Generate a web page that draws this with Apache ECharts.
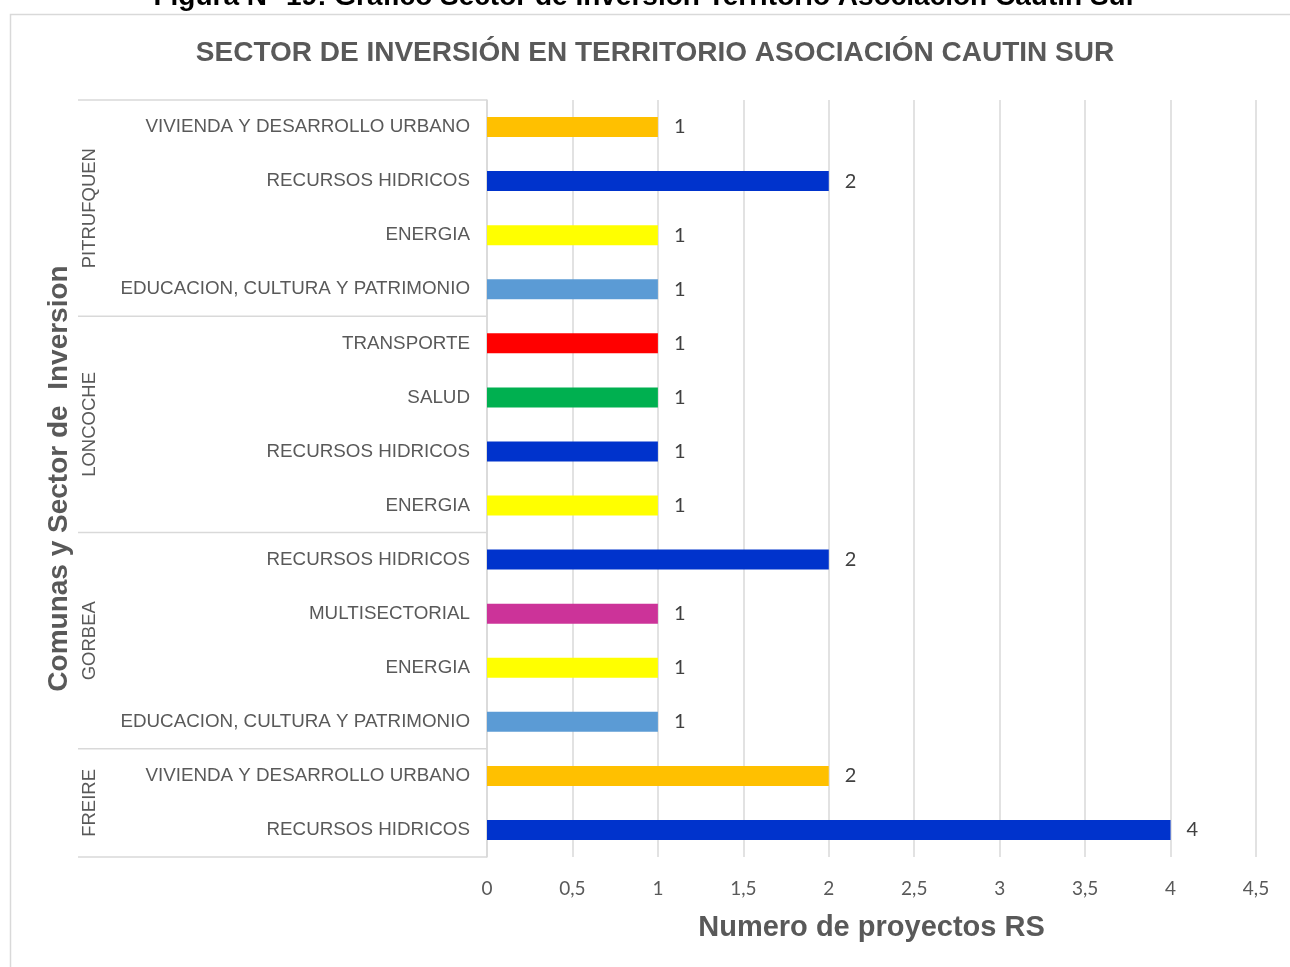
<!DOCTYPE html>
<html>
<head>
<meta charset="utf-8">
<script src="https://cdn.jsdelivr.net/npm/echarts@6/dist/echarts.min.js"></script>
<style>
  html, body { margin: 0; padding: 0; background: #fff; }
  #grafico { width: 1290px; height: 967px; }
</style>
</head>
<body>
<div id="grafico"></div>
<script>
// datos (de arriba hacia abajo)
const comunas = ['PITRUFQUEN', 'LONCOCHE', 'GORBEA', 'FREIRE'];
const tamanoComuna = [4, 4, 4, 2];
const sectores = [
  'VIVIENDA Y DESARROLLO URBANO', 'RECURSOS HIDRICOS', 'ENERGIA', 'EDUCACION, CULTURA Y PATRIMONIO',
  'TRANSPORTE', 'SALUD', 'RECURSOS HIDRICOS', 'ENERGIA',
  'RECURSOS HIDRICOS', 'MULTISECTORIAL', 'ENERGIA', 'EDUCACION, CULTURA Y PATRIMONIO',
  'VIVIENDA Y DESARROLLO URBANO', 'RECURSOS HIDRICOS'
];
const proyectos = [1, 2, 1, 1, 1, 1, 1, 1, 2, 1, 1, 1, 2, 4];
const ticksX = [0, 0.5, 1, 1.5, 2, 2.5, 3, 3.5, 4, 4.5];

// colores por sector
const coresSetor = {
  'VIVIENDA Y DESARROLLO URBANO': '#FFC000',
  'RECURSOS HIDRICOS': '#0033CC',
  'ENERGIA': '#FFFF00',
  'EDUCACION, CULTURA Y PATRIMONIO': '#5B9BD5',
  'TRANSPORTE': '#FF0000',
  'SALUD': '#00B050',
  'MULTISECTORIAL': '#CC3399'
};

const cinza = '#595959';
const linha = '#d9d9d9';

const grafico = echarts.init(document.getElementById('grafico'));

const option = {
  animation: false,
  backgroundColor: '#ffffff',
  title: {
    text: 'SECTOR DE INVERSIÓN EN TERRITORIO ASOCIACIÓN CAUTIN SUR',
    left: 650,
    top: 34,
    textAlign: 'center',
    textStyle: {
      fontFamily: 'Liberation Sans',
      fontWeight: 'bold',
      fontSize: 28,
      color: cinza
    }
  },
  grid: { left: 487, right: 34, top: 100, bottom: 110, containLabel: false },
  xAxis: {
    type: 'value',
    min: ticksX[0],
    max: ticksX[ticksX.length - 1],
    interval: 0.5,
    axisLine: { show: false },
    axisTick: { show: false },
    splitLine: { show: true, lineStyle: { color: linha, width: 1.5 } },
    axisLabel: {
      margin: 22,
      fontFamily: 'Lato',
      fontSize: 19,
      color: cinza,
      formatter: v => String(v).replace('.', ',')
    },
    name: 'Numero de proyectos RS',
    nameLocation: 'middle',
    nameGap: 56,
    nameTextStyle: {
      fontFamily: 'Liberation Sans',
      fontWeight: 'bold',
      fontSize: 29,
      color: cinza
    }
  },
  yAxis: {
    type: 'category',
    inverse: true,
    data: sectores,
    axisLine: { show: true, lineStyle: { color: linha, width: 1.5 } },
    axisTick: { show: false },
    splitLine: { show: false },
    axisLabel: {
      margin: 17,
      fontFamily: 'Liberation Sans',
      fontSize: 18.8,
      color: cinza
    },
    name: 'Comunas y Sector de  Inversion',
    nameLocation: 'middle',
    nameRotate: 90,
    nameGap: 414,
    nameTextStyle: {
      fontFamily: 'Liberation Sans',
      fontWeight: 'bold',
      fontSize: 28,
      color: cinza
    }
  },
  series: [{
    type: 'bar',
    barWidth: 20,
    data: proyectos.map((v, i) => ({
      value: v,
      itemStyle: { color: coresSetor[sectores[i]] }
    })),
    label: {
      show: true,
      position: 'right',
      distance: 16,
      fontFamily: 'Lato',
      fontSize: 20,
      color: '#404040'
    }
  }]
};

grafico.setOption(option);

// separadores y nombres de comunas calculados con la escala del eje
const y0 = grafico.convertToPixel({ yAxisIndex: 0 }, 0);
const y1 = grafico.convertToPixel({ yAxisIndex: 0 }, 1);
const banda = y1 - y0;
const xEixo = grafico.convertToPixel({ xAxisIndex: 0 }, 0);

const elementos = [
  {
    type: 'rect',
    shape: { x: 10.5, y: 14.5, width: 1300, height: 980 },
    style: { fill: 'none', stroke: linha, lineWidth: 1.5 },
    silent: true
  },
  {
    type: 'text',
    x: 645, y: 11,
    style: {
      text: 'Figura N° 19: Gráfico Sector de Inversión Territorio Asociación Cautin Sur',
      fontFamily: 'Liberation Sans',
      fontWeight: 'bold',
      fontSize: 28,
      fill: '#000',
      align: 'center',
      verticalAlign: 'bottom'
    }
  }
];

let inicio = 0;
comunas.forEach((nome, g) => {
  const topo = y0 + (inicio - 0.5) * banda;
  const fim = y0 + (inicio + tamanoComuna[g] - 0.5) * banda;
  elementos.push({
    type: 'line',
    shape: { x1: 78, y1: topo, x2: xEixo, y2: topo },
    style: { stroke: linha, lineWidth: 1.5 }
  });
  elementos.push({
    type: 'text',
    x: 90, y: (topo + fim) / 2,
    rotation: Math.PI / 2,
    style: {
      text: nome,
      fontFamily: 'Liberation Sans',
      fontSize: 18.5,
      fill: cinza,
      align: 'center',
      verticalAlign: 'middle'
    }
  });
  inicio += tamanoComuna[g];
});
const base = y0 + (sectores.length - 0.5) * banda;
elementos.push({
  type: 'line',
  shape: { x1: 78, y1: base, x2: xEixo, y2: base },
  style: { stroke: linha, lineWidth: 1.5 }
});

grafico.setOption({ graphic: elementos });

window.addEventListener('resize', () => grafico.resize());
</script>
</body>
</html>
